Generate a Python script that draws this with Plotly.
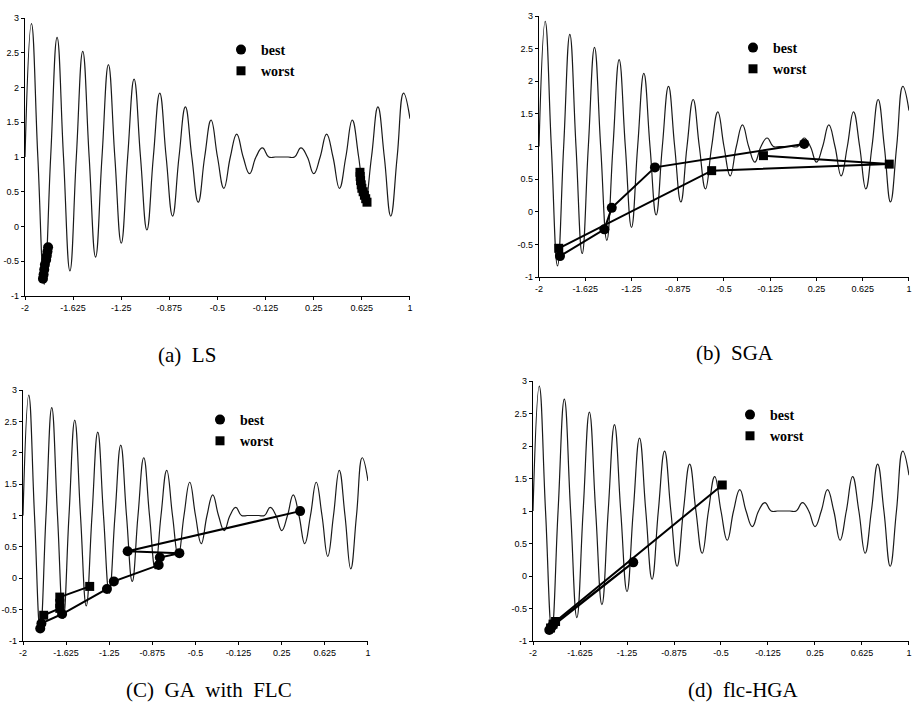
import plotly.graph_objects as go

# ---- objective function curve (crossings / peaks / troughs) ----
curve_x = [-2.00, -1.95, -1.90, -1.85, -1.80, -1.75, -1.70, -1.65, -1.60, -1.55,
           -1.50, -1.45, -1.40, -1.35, -1.30, -1.25, -1.20, -1.15, -1.10, -1.05,
           -1.00, -0.95, -0.90, -0.85, -0.80, -0.75, -0.70, -0.65, -0.60, -0.55,
           -0.50, -0.45, -0.40, -0.35, -0.30, -0.25, -0.20, -0.15, -0.10, -0.05,
           0.00, 0.05, 0.10, 0.15, 0.20, 0.25, 0.30, 0.35, 0.40, 0.45,
           0.50, 0.55, 0.60, 0.65, 0.70, 0.75, 0.80, 0.85, 0.90, 0.95, 1.00]
curve_y = [1.00, 2.92, 1.00, -0.83, 1.00, 2.72, 1.00, -0.64, 1.00, 2.52,
           1.00, -0.44, 1.00, 2.33, 1.00, -0.24, 1.00, 2.12, 1.00, -0.05,
           1.00, 1.92, 1.00, 0.15, 1.00, 1.72, 1.00, 0.35, 1.00, 1.53,
           1.00, 0.55, 1.00, 1.33, 1.00, 0.76, 1.00, 1.13, 1.00, 1.00,
           1.00, 1.00, 1.00, 1.13, 1.00, 0.76, 1.00, 1.33, 1.00, 0.55,
           1.00, 1.53, 1.00, 0.35, 1.00, 1.72, 1.00, 0.15, 1.00, 1.92, 1.55]

# ---- (a) LS ----
ls_best_x = [-1.86, -1.855, -1.85, -1.845, -1.835, -1.83, -1.825, -1.82]
ls_best_y = [-0.75, -0.69, -0.62, -0.55, -0.48, -0.42, -0.36, -0.30]
ls_worst_x = [0.61, 0.612, 0.615, 0.62, 0.625, 0.635, 0.645, 0.655, 0.665]
ls_worst_y = [0.78, 0.72, 0.66, 0.60, 0.55, 0.50, 0.45, 0.40, 0.35]

# ---- (b) SGA ----
sga_best_x = [-1.83, -1.47, -1.41, -1.06, 0.15]
sga_best_y = [-0.68, -0.27, 0.06, 0.68, 1.04]
sga_worst_x = [-1.84, -0.60, 0.84, -0.18]
sga_worst_y = [-0.56, 0.63, 0.73, 0.86]

# ---- (C) GA with FLC ----
ga_best_x = [-1.85, -1.84, -1.66, -1.27, -1.21, -0.82, -0.81, -0.64, -1.09, 0.41]
ga_best_y = [-0.80, -0.72, -0.57, -0.17, -0.05, 0.21, 0.33, 0.40, 0.43, 1.07]
ga_worst_x = [-1.82, -1.68, -1.68, -1.68, -1.42]
ga_worst_y = [-0.59, -0.48, -0.40, -0.30, -0.13]

# ---- (d) flc-HGA ----
hga_best_x = [-1.87, -1.85, -1.20, -1.84]
hga_best_y = [-0.83, -0.78, 0.21, -0.75]
hga_worst_x = [-1.86, -1.84, -1.82, -0.49]
hga_worst_y = [-0.80, -0.74, -0.70, 1.40]

x_ticks = [-2, -1.625, -1.25, -0.875, -0.5, -0.125, 0.25, 0.625, 1]
x_tick_text = ["-2", "-1.625", "-1.25", "-0.875", "-0.5", "-0.125", "0.25", "0.625", "1"]
y_ticks = [-1, -0.5, 0, 0.5, 1, 1.5, 2, 2.5, 3]
y_tick_text = ["-1", "-0.5", "0", "0.5", "1", "1.5", "2", "2.5", "3"]

captions = ["(a)\u00a0 LS", "(b)\u00a0 SGA", "(C)\u00a0 GA\u00a0 with\u00a0 FLC", "(d)\u00a0 flc-HGA"]

W, H = 916, 709
# pixel boxes of each plot area: (left, right, top, bottom)
boxes = [(25, 410, 18, 296), (539, 909, 16, 277), (23, 368, 390, 641), (533, 909, 381, 641)]
caption_pos = [(187, 355), (735, 353), (209, 690), (743, 690)]
legend_pos = [(221, 34), (733, 32), (200, 404), (730, 399)]

panels = [
    (ls_best_x, ls_best_y, ls_worst_x, ls_worst_y, False),
    (sga_best_x, sga_best_y, sga_worst_x, sga_worst_y, True),
    (ga_best_x, ga_best_y, ga_worst_x, ga_worst_y, True),
    (hga_best_x, hga_best_y, hga_worst_x, hga_worst_y, True),
]

fig = go.Figure()
layout = {}
annotations = []
for i, (bx, by, wx, wy, connect) in enumerate(panels):
    n = "" if i == 0 else str(i + 1)
    xa, ya = "x" + n, "y" + n
    lg = "legend" + n
    l, r, t, b = boxes[i]
    fig.add_trace(go.Scatter(x=curve_x, y=curve_y, mode="lines",
                             line=dict(color="#1a1a1a", width=1.2, shape="spline", smoothing=1.3),
                             xaxis=xa, yaxis=ya, showlegend=False, hoverinfo="skip",
                             cliponaxis=False))
    if connect:
        fig.add_trace(go.Scatter(x=wx, y=wy, mode="lines", line=dict(color="black", width=2),
                                 xaxis=xa, yaxis=ya, showlegend=False))
        fig.add_trace(go.Scatter(x=bx, y=by, mode="lines", line=dict(color="black", width=2),
                                 xaxis=xa, yaxis=ya, showlegend=False))
    fig.add_trace(go.Scatter(x=bx, y=by, mode="markers", name="best",
                             marker=dict(symbol="circle", size=10, color="black"),
                             xaxis=xa, yaxis=ya, legend=lg))
    fig.add_trace(go.Scatter(x=wx, y=wy, mode="markers", name="worst",
                             marker=dict(symbol="square", size=9, color="black"),
                             xaxis=xa, yaxis=ya, legend=lg))
    layout["xaxis" + n] = dict(domain=[l / W, r / W], range=[-2, 1.0001], anchor=ya,
                               tickmode="array", tickvals=x_ticks, ticktext=x_tick_text,
                               ticklabeloverflow="allow",
                               showline=True, linecolor="black", linewidth=1.2,
                               ticks="outside", ticklen=3, tickcolor="black",
                               showgrid=False, zeroline=False, automargin=False,
                               tickfont=dict(family="Liberation Sans", size=9, color="black"))
    layout["yaxis" + n] = dict(domain=[1 - b / H, 1 - t / H], range=[-1, 3.0001], anchor=xa,
                               tickmode="array", tickvals=y_ticks, ticktext=y_tick_text,
                               ticklabeloverflow="allow",
                               showline=True, linecolor="black", linewidth=1.2,
                               ticks="outside", ticklen=3, tickcolor="black",
                               showgrid=False, zeroline=False, automargin=False,
                               tickfont=dict(family="Liberation Sans", size=9, color="black"))
    lx, ly = legend_pos[i]
    layout[lg] = dict(x=lx / W, y=1 - ly / H, xanchor="left", yanchor="top",
                      bgcolor="rgba(0,0,0,0)", borderwidth=0, itemwidth=30,
                      tracegroupgap=0,
                      font=dict(family="Liberation Serif", size=14, color="black", weight="bold"))
    cx, cy = caption_pos[i]
    annotations.append(dict(text=captions[i], x=cx / W, y=1 - cy / H, xref="paper", yref="paper",
                            xanchor="center", yanchor="middle", showarrow=False,
                            font=dict(family="Liberation Serif", size=21, color="black")))

fig.update_layout(width=W, height=H, margin=dict(l=0, r=0, t=0, b=0),
                  paper_bgcolor="white", plot_bgcolor="white",
                  annotations=annotations, **layout)
fig.write_html("out.html", config={"displayModeBar": False},
               post_script="document.body.style.margin='0';document.body.style.overflow='hidden';")
